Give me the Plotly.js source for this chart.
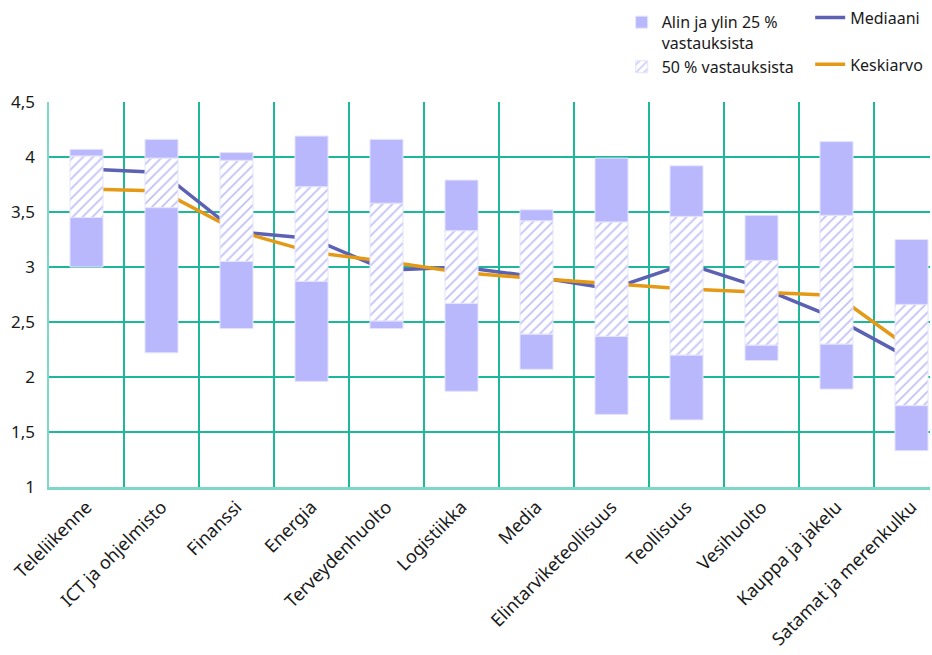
<!DOCTYPE html>
<html>
<head>
<meta charset="utf-8">
<script src="https://cdn.plot.ly/plotly-3.0.1.min.js"></script>
<style>
  html, body { margin: 0; padding: 0; background: #ffffff; }
  #chart { width: 932px; height: 655px; }
</style>
</head>
<body>
<div id="chart"></div>
<script>
// Categories (toimialat)
const categories = [
  "Teleliikenne", "ICT ja ohjelmisto", "Finanssi", "Energia", "Terveydenhuolto",
  "Logistiikka", "Media", "Elintarviketeollisuus", "Teollisuus", "Vesihuolto",
  "Kauppa ja jakelu", "Satamat ja merenkulku"
];

// Distribution of answers per category
const minimum  = [3.00, 2.22, 2.44, 1.96, 2.44, 1.87, 2.07, 1.66, 1.61, 2.15, 1.89, 1.33];
const quartile1 = [3.45, 3.54, 3.05, 2.87, 2.51, 2.67, 2.39, 2.37, 2.20, 2.29, 2.30, 1.74];
const quartile3 = [4.01, 3.99, 3.97, 3.73, 3.58, 3.33, 3.42, 3.41, 3.46, 3.06, 3.47, 2.66];
const maximum  = [4.07, 4.16, 4.04, 4.19, 4.16, 3.79, 3.52, 3.99, 3.92, 3.47, 4.14, 3.25];

const median = [3.89, 3.86, 3.32, 3.26, 2.97, 3.00, 2.91, 2.80, 3.03, 2.81, 2.53, 2.16];
const mean   = [3.71, 3.69, 3.33, 3.135, 3.05, 2.95, 2.895, 2.845, 2.80, 2.77, 2.74, 2.25];

const yTicks = [1, 1.5, 2, 2.5, 3, 3.5, 4, 4.5];

const seriesNames = {
  outer: "Alin ja ylin 25 %<br>vastauksista",
  middle: "50 % vastauksista",
  median: "Mediaani",
  mean: "Keskiarvo"
};

const barColor = "#b9b8fc";
const barEdge = "#e4e4fd";
const barWidth = 0.44;

const diff = (a, b) => a.map((v, i) => v - b[i]);

const traces = [
  {
    type: "scatter", mode: "lines", x: categories, y: median, xaxis: "x", yaxis: "y",
    name: seriesNames.median, legend: "legend2", legendgroup: "med", legendrank: 1,
    line: { color: "#5c61b4", width: 3.5 }, hoverinfo: "skip"
  },
  {
    type: "scatter", mode: "lines", x: categories, y: mean, xaxis: "x", yaxis: "y",
    name: seriesNames.mean, legend: "legend2", legendgroup: "mean", legendrank: 2,
    line: { color: "#e59a17", width: 3.5 }, hoverinfo: "skip"
  },
  {
    type: "bar", x: categories, base: minimum, y: diff(quartile1, minimum), xaxis: "x2", yaxis: "y2",
    name: seriesNames.outer, legend: "legend", legendgroup: "outer", legendrank: 1,
    width: barWidth, marker: { color: barColor, line: { color: barEdge, width: 1 } },
    hoverinfo: "skip"
  },
  {
    type: "bar", x: categories, base: quartile1, y: diff(quartile3, quartile1), xaxis: "x2", yaxis: "y2",
    name: seriesNames.middle, legend: "legend", legendgroup: "mid", legendrank: 2,
    width: barWidth,
    marker: {
      color: "#ffffff",
      line: { color: barEdge, width: 1 },
      pattern: { shape: "/", fgcolor: "#c2c1fa", bgcolor: "#ffffff", size: 7, solidity: 0.25 }
    },
    hoverinfo: "skip"
  },
  {
    type: "bar", x: categories, base: quartile3, y: diff(maximum, quartile3), xaxis: "x2", yaxis: "y2",
    name: seriesNames.outer, legend: "legend", legendgroup: "outer", showlegend: false,
    width: barWidth, marker: { color: barColor, line: { color: barEdge, width: 1 } },
    hoverinfo: "skip"
  }
];

const gridColor = "#1db898";
const axisColor = "#7fd8c6";
const fontFamily = "'Noto Sans', 'Open Sans', sans-serif";
const xRange = [-0.5, -0.5 + 881 / 75];
const yRange = [1, 4.5];

const layout = {
  width: 932, height: 655,
  margin: { l: 49, r: 2, t: 102, b: 168 },
  paper_bgcolor: "#ffffff", plot_bgcolor: "#ffffff",
  separators: ", ",
  barmode: "overlay",
  font: { family: fontFamily, size: 17, color: "#1a1a1a" },
  showlegend: true,
  xaxis: {
    type: "category",
    range: xRange,
    tickson: "boundaries",
    ticks: "",
    tickangle: -45,
    showgrid: true, gridcolor: gridColor, gridwidth: 1.4,
    showline: true, linecolor: axisColor, linewidth: 2.5,
    tickfont: { size: 18, color: "#1a1a1a" },
    fixedrange: true
  },
  yaxis: {
    range: yRange,
    tickvals: yTicks,
    ticks: "",
    showgrid: true, gridcolor: gridColor, gridwidth: 1.4,
    showline: true, linecolor: axisColor, linewidth: 2.5,
    zeroline: false,
    tickfont: { size: 17, color: "#1a1a1a" },
    ticklabelstandoff: 8,
    fixedrange: true
  },
  xaxis2: {
    type: "category", overlaying: "x", matches: "x", range: xRange,
    visible: false, showgrid: false, fixedrange: true
  },
  yaxis2: {
    overlaying: "y", matches: "y", range: yRange,
    visible: false, showgrid: false, zeroline: false, fixedrange: true
  },
  legend: {
    x: 0.65, y: 0.992, xref: "paper", yref: "container", xanchor: "left", yanchor: "top",
    orientation: "v", traceorder: "normal", valign: "top",
    font: { size: 16, color: "#1a1a1a" }, tracegroupgap: 14,
    bgcolor: "rgba(0,0,0,0)"
  },
  legend2: {
    x: 0.864, y: 0.999, xref: "paper", yref: "container", xanchor: "left", yanchor: "top",
    orientation: "v", traceorder: "grouped", valign: "top",
    font: { size: 16, color: "#1a1a1a" }, tracegroupgap: 23,
    bgcolor: "rgba(0,0,0,0)"
  }
};

Plotly.newPlot("chart", traces, layout, { displayModeBar: false, staticPlot: true });
</script>
</body>
</html>
